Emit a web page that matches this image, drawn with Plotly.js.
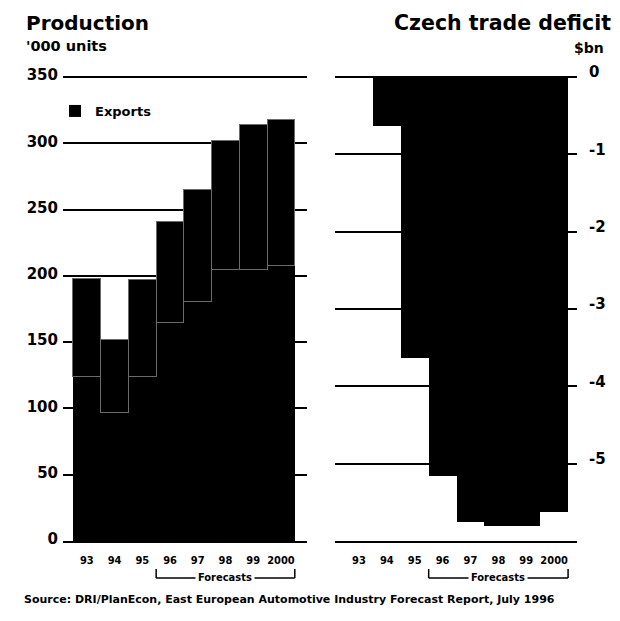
<!DOCTYPE html>
<html><head><meta charset="utf-8">
<script src="https://cdn.plot.ly/plotly-3.0.1.min.js"></script>
<style>html,body{margin:0;padding:0;background:#fff}#chart{width:620px;height:621px}</style>
</head><body><div id="chart"></div>
<script>
// ---- data ----
const years = ['93', '94', '95', '96', '97', '98', '99', '2000'];
const productionTotal = [198, 152, 197, 241, 265, 302, 314, 318];   // '000 units
const productionExports = [124, 97, 124, 165, 181, 205, 205, 208];  // '000 units
const tradeDeficit = [0, -0.63, -3.63, -5.16, -5.75, -5.8, -5.8, -5.62]; // $bn
const prodTicks = [0, 50, 100, 150, 200, 250, 300, 350];
const deficitTicks = [0, -1, -2, -3, -4, -5];
const deficitTickText = ['0', '-1', '-2', '-3', '-4', '-5'];
const firstForecastYear = '96';
const sourceText = 'Source: DRI/PlanEcon, East European Automotive Industry Forecast Report, July 1996';

// derived stack part (total minus exports)
const productionDomestic = productionTotal.map((t, i) => t - productionExports[i]);

// ---- layout helpers (pixel -> paper) ----
const L = 63, R = 577, T = 75, B = 541;
const px = x => (x - L) / (R - L);
const py = y => (B - y) / (B - T);
const FONT = 'DejaVu Sans, sans-serif';
const FONTC = 'DejaVu Sans Condensed, DejaVu Sans, sans-serif';
const fcFrom = years.indexOf(firstForecastYear) - 0.5;
const fcTo = years.length - 0.5;
// value ranges chosen so the top gridline sits 2px below the plot edge (y=77)
const leftTop = 350 * (B - T) / (B - 77);
const rightTop = 6 * (B - T) / (B - 77) - 6;

const traces = [
  {type: 'bar', x: years, y: productionExports, name: 'Exports',
   marker: {color: '#000', line: {width: 0}}, xaxis: 'x', yaxis: 'y', hoverinfo: 'x+y'},
  {type: 'bar', x: years, y: productionDomestic, name: 'Domestic', showlegend: false,
   marker: {color: '#000', line: {color: '#6a6a6a', width: 1}}, xaxis: 'x', yaxis: 'y', hoverinfo: 'x+y'},
  {type: 'bar', x: years, y: tradeDeficit, name: 'Trade deficit', showlegend: false,
   marker: {color: '#000', line: {width: 0}}, xaxis: 'x2', yaxis: 'y2', hoverinfo: 'x+y'}
];

const xTickFont = {family: FONTC, size: 11, color: '#000', weight: 'bold'};
const yTickFont = {family: FONT, size: 15, color: '#000', weight: 'bold'};

function bracket(xref) {
  const yb = py(578), yt = py(569);
  const ln = {color: '#000', width: 1.5};
  return [
    {type: 'line', xref: xref, yref: 'paper', x0: fcFrom, x1: fcTo, y0: yb, y1: yb, line: ln},
    {type: 'line', xref: xref, yref: 'paper', x0: fcFrom, x1: fcFrom, y0: yb, y1: yt, line: ln},
    {type: 'line', xref: xref, yref: 'paper', x0: fcTo, x1: fcTo, y0: yb, y1: yt, line: ln}
  ];
}

const layout = {
  width: 620, height: 621,
  margin: {l: L, r: 620 - R, t: T, b: 621 - B, pad: 0},
  paper_bgcolor: '#fff', plot_bgcolor: '#fff',
  barmode: 'stack', bargap: 0,
  showlegend: true,
  legend: {x: px(55), y: py(96), xanchor: 'left', yanchor: 'top',
           bgcolor: 'rgba(0,0,0,0)', font: {family: FONT, size: 13, color: '#000', weight: 'bold'}},
  xaxis: {domain: [0, px(307)], type: 'category', range: [-0.86, 7.94], anchor: 'y',
          showgrid: false, showline: true, linecolor: '#000', linewidth: 2, ticks: '',
          tickfont: xTickFont, ticklabelstandoff: 8, fixedrange: true},
  yaxis: {domain: [0, 1], range: [0, leftTop], tickvals: prodTicks, anchor: 'x',
          showgrid: true, gridcolor: '#000', gridwidth: 2, zeroline: false, showline: false,
          ticks: '', tickfont: yTickFont, ticklabelstandoff: 4, ticklabelshift: -2, fixedrange: true},
  xaxis2: {domain: [px(335), 1], type: 'category', range: [-0.86, 7.82], anchor: 'y2',
           showgrid: false, showline: true, linecolor: '#000', linewidth: 2, ticks: '',
           tickfont: xTickFont, ticklabelstandoff: 8, fixedrange: true},
  yaxis2: {domain: [0, 1], range: [-6, rightTop], anchor: 'x2', side: 'right',
           tickvals: deficitTicks, ticktext: deficitTickText,
           showgrid: true, gridcolor: '#000', gridwidth: 2, zeroline: false, showline: false,
           ticks: '', tickfont: yTickFont, ticklabelstandoff: 11, ticklabelshift: -5, fixedrange: true},
  shapes: bracket('x').concat(bracket('x2')),
  annotations: [
    {text: 'Production', xref: 'paper', yref: 'paper', x: px(24), y: py(23), xanchor: 'left', yanchor: 'middle',
     showarrow: false, font: {family: FONT, size: 20, color: '#000', weight: 'bold'}},
    {text: "'000 units", xref: 'paper', yref: 'paper', x: px(24), y: py(46), xanchor: 'left', yanchor: 'middle',
     showarrow: false, font: {family: FONT, size: 14.5, color: '#000', weight: 'bold'}},
    {text: 'Czech trade deficit', xref: 'paper', yref: 'paper', x: px(392), y: py(23), xanchor: 'left', yanchor: 'middle',
     showarrow: false, font: {family: FONT, size: 20.5, color: '#000', weight: 'bold'}},
    {text: '$bn', xref: 'paper', yref: 'paper', x: px(606), y: py(48), xanchor: 'right', yanchor: 'middle',
     showarrow: false, font: {family: FONT, size: 14, color: '#000', weight: 'bold'}},
    {text: 'Forecasts', xref: 'x', yref: 'paper', x: (fcFrom + fcTo) / 2, y: py(577), xanchor: 'center', yanchor: 'middle',
     showarrow: false, bgcolor: '#fff', borderpad: 2, font: {family: FONTC, size: 11, color: '#000', weight: 'bold'}},
    {text: 'Forecasts', xref: 'x2', yref: 'paper', x: (fcFrom + fcTo) / 2, y: py(577), xanchor: 'center', yanchor: 'middle',
     showarrow: false, bgcolor: '#fff', borderpad: 2, font: {family: FONTC, size: 11, color: '#000', weight: 'bold'}},
    {text: sourceText, xref: 'paper', yref: 'paper', x: px(22), y: py(599), xanchor: 'left', yanchor: 'middle',
     showarrow: false, font: {family: FONT, size: 11, color: '#000', weight: 'bold'}}
  ]
};

Plotly.newPlot('chart', traces, layout, {displayModeBar: false, staticPlot: true});
</script>
</body></html>
